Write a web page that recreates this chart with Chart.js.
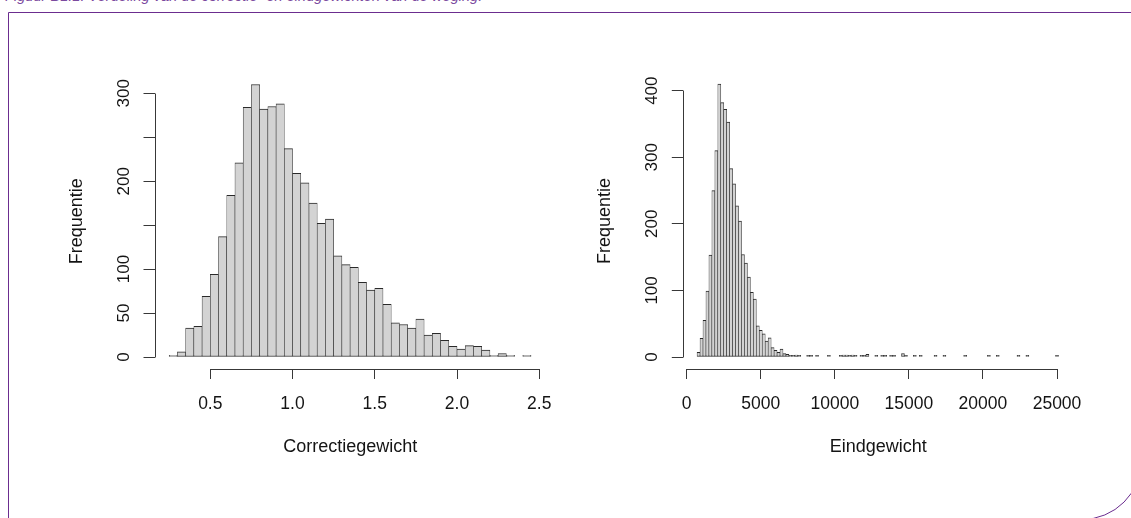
<!DOCTYPE html>
<html lang="nl">
<head>
<meta charset="utf-8">
<title>Verdeling van de correctie- en eindgewichten</title>
<script src="https://cdn.jsdelivr.net/npm/chart.js@4.4.1/dist/chart.umd.min.js"></script>
<style>
    html, body { margin: 0; padding: 0; background: #fff; }
    body { width: 1131px; height: 518px; position: relative; overflow: hidden; }
    #bijschrift {
        position: absolute; left: 5px; top: -11px;
        font: italic 14.6px "Liberation Sans", Arial, sans-serif;
        line-height: 15px; color: #7b4a9e; white-space: nowrap;
    }
    #kader {
        position: absolute; left: 8px; top: 12px; width: 1134px; height: 508px;
        box-sizing: border-box; border: 1.5px solid #6b2d8f;
        border-bottom-right-radius: 60px;
    }
    canvas { position: absolute; top: 0; }
    #links { left: 0; }
    #rechts { left: 570px; }
</style>
</head>
<body>
<div id="bijschrift">Figuur B1.1: Verdeling van de correctie- en eindgewichten van de weging.</div>
<div id="kader"></div>
<canvas id="links" width="570" height="518"></canvas>
<canvas id="rechts" width="561" height="518"></canvas>
<script>
// Correctiegewicht: klassen van 0.05 vanaf 0.25
const correctieStart = 0.25;
const correctieBreedte = 0.05;
const correctieAantallen = [2, 6, 33, 35, 69, 94, 137, 184, 221, 284, 310, 282, 285, 288, 237,
    209, 198, 175, 152, 157, 115, 105, 102, 85, 76, 78, 60, 39, 37, 33, 43, 25, 27, 19, 12,
    9, 13, 12, 8, 2, 4, 2, 0, 2];
const correctieXTicks = [0.5, 1.0, 1.5, 2.0, 2.5];
const correctieXLabels = ['0.5', '1.0', '1.5', '2.0', '2.5'];
const correctieYTicks = [0, 50, 100, 150, 200, 250, 300];
const correctieYLabels = [0, 50, 100, 200, 300];

// Eindgewicht: klassen van 200 vanaf 700, daarna losse staart
const eindStart = 700;
const eindBreedte = 200;
const eindAantallen = [7, 28, 55, 99, 153, 250, 310, 410, 382, 372, 353, 283, 260, 227, 204,
    154, 141, 120, 97, 87, 47, 40, 35, 24, 29, 14, 10, 7, 12, 5, 4, 2, 2, 3, 1];
const eindStaartStart = [8100, 8300, 8700, 9500, 10300, 10500, 10700, 10900, 11100, 11300,
    11700, 11900, 12100, 12700, 13100, 13300, 13700, 13900, 14500, 14700, 15300, 15700,
    16700, 17300, 18700, 20300, 20900, 22300, 22900, 24900];
const eindStaartAantal = [1, 2, 1, 2, 1, 3, 3, 2, 3, 2, 2, 2, 4, 1, 2, 2, 2, 2, 5, 1, 2, 1,
    1, 1, 1, 1, 1, 1, 1, 1];
const eindXTicks = [0, 5000, 10000, 15000, 20000, 25000];
const eindXLabels = ['0', '5000', '10000', '15000', '20000', '25000'];
const eindYTicks = [0, 100, 200, 300, 400];
const eindYLabels = [0, 100, 200, 300, 400];

const FONT = '"Liberation Sans", Arial, Helvetica, sans-serif';
const INKT = '#141414';
const LIJN = '#383838';

function alignPx(p) {
    return Math.round(p - 0.5) + 0.5;
}

// R-achtige assen: lijn van eerste tot laatste tick, y-labels gedraaid
const assenPlugin = {
    id: 'assen',
    afterDraw(chart, args, opts) {
        const { ctx, chartArea, scales } = chart;
        const x = scales.x, y = scales.y;
        const xt = x.ticks, yt = y.ticks;
        ctx.save();
        ctx.strokeStyle = LIJN;
        ctx.lineWidth = 1;
        ctx.beginPath();
        const by = alignPx(chartArea.bottom);
        ctx.moveTo(alignPx(x.getPixelForValue(xt[0].value)), by);
        ctx.lineTo(alignPx(x.getPixelForValue(xt[xt.length - 1].value)), by);
        const lx = alignPx(chartArea.left);
        ctx.moveTo(lx, alignPx(y.getPixelForValue(yt[0].value)));
        ctx.lineTo(lx, alignPx(y.getPixelForValue(yt[yt.length - 1].value)));
        ctx.stroke();

        ctx.fillStyle = INKT;
        ctx.font = '17px ' + FONT;
        ctx.textAlign = 'center';
        ctx.textBaseline = 'middle';
        opts.labels.forEach(v => {
            ctx.save();
            ctx.translate(chartArea.left - 30.5, y.getPixelForValue(v));
            ctx.rotate(-Math.PI / 2);
            ctx.fillText(String(v), 0, 0);
            ctx.restore();
        });
        ctx.restore();
    }
};

function maakHistogram(id, cfg) {
    return new Chart(document.getElementById(id), {
        type: 'bar',
        data: {
            datasets: [{
                data: cfg.punten,
                backgroundColor: '#d3d3d3',
                borderColor: '#2a2a2a',
                borderWidth: { top: 1, bottom: 1, left: 0.6, right: 0.6 },
                borderSkipped: false,
                minBarLength: cfg.minBar,
                barPercentage: 1,
                categoryPercentage: 1
            }]
        },
        options: {
            responsive: false,
            animation: false,
            events: [],
            layout: { padding: cfg.padding },
            plugins: {
                legend: { display: false },
                tooltip: { enabled: false },
                assen: { labels: cfg.yLabels }
            },
            scales: {
                x: {
                    type: 'linear',
                    min: cfg.xMin, max: cfg.xMax,
                    offset: false,
                    border: { display: false },
                    grid: { display: true, offset: false, drawOnChartArea: false, drawTicks: true,
                            tickLength: 10, color: LIJN, lineWidth: 1 },
                    afterBuildTicks: s => { s.ticks = cfg.xTicks.map(v => ({ value: v })); },
                    ticks: {
                        autoSkip: false, maxRotation: 0, padding: 15, color: INKT,
                        font: { family: FONT, size: 17.5 },
                        callback: (v, i) => cfg.xLabels[i]
                    },
                    title: { display: true, text: cfg.xTitel, color: INKT,
                             font: { family: FONT, size: 18 }, padding: { top: 0, bottom: 11 } },
                    afterFit: s => { s.height = 100; }
                },
                y: {
                    min: cfg.yMin, max: cfg.yMax,
                    border: { display: false },
                    grid: { display: true, drawOnChartArea: false, drawTicks: true,
                            tickLength: 11.5, color: LIJN, lineWidth: 1 },
                    afterBuildTicks: s => { s.ticks = cfg.yTicks.map(v => ({ value: v })); },
                    ticks: { display: false },
                    title: { display: true, text: 'Frequentie', color: INKT,
                             font: { family: FONT, size: 18 }, padding: { top: 11, bottom: 0 } },
                    afterFit: s => { s.width = 100; }
                }
            }
        },
        plugins: [assenPlugin]
    });
}

const correctiePunten = correctieAantallen.map((n, i) => ({
    x: correctieStart + (i + 0.5) * correctieBreedte, y: n
}));

const eindPunten = eindAantallen.map((n, i) => ({
    x: eindStart + (i + 0.5) * eindBreedte, y: n
})).concat(eindStaartStart.map((s, i) => ({
    x: s + eindBreedte / 2, y: eindStaartAantal[i]
})));

maakHistogram('links', {
    punten: correctiePunten, minBar: 0,
    xMin: 0.1638, xMax: 2.538, xTicks: correctieXTicks, xLabels: correctieXLabels,
    yMin: -13.65, yMax: 322.4, yTicks: correctieYTicks, yLabels: correctieYLabels,
    xTitel: 'Correctiegewicht',
    padding: { left: 55, right: 24.5, top: 73.6, bottom: 49 }
});

maakHistogram('rechts', {
    punten: eindPunten, minBar: 1.6,
    xMin: -230, xMax: 26100, xTicks: eindXTicks, xLabels: eindXLabels,
    yMin: -18, yMax: 426.4, yTicks: eindYTicks, yLabels: eindYLabels,
    xTitel: 'Eindgewicht',
    padding: { left: 13.3, right: 57.7, top: 73.1, bottom: 49 }
});
</script>
</body>
</html>
